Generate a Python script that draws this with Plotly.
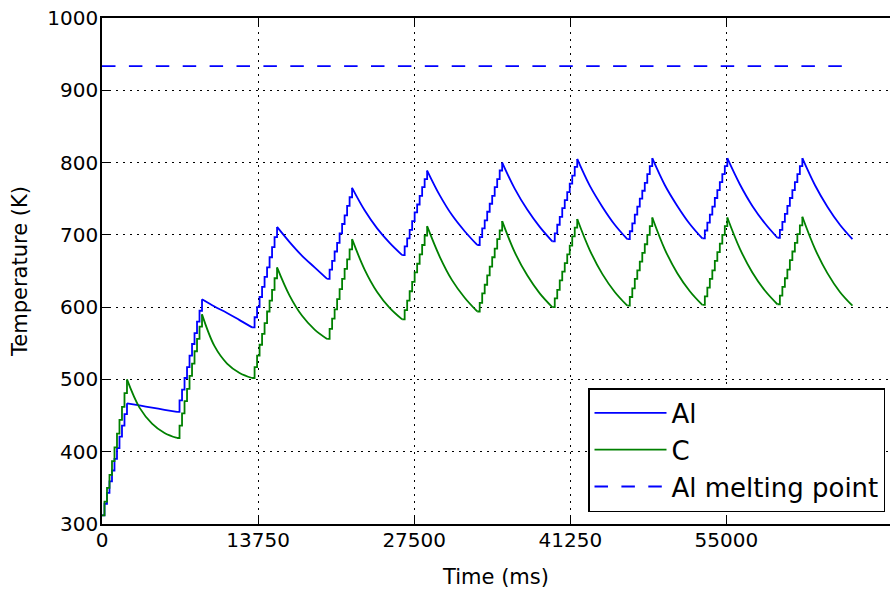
import plotly.graph_objects as go

# ---------------- data ----------------
heat_start_ms = [0, 6610, 13220, 19830, 26440, 33050, 39660, 46270, 52880, 59490]
end_ms = 66100
heat_step_ms = 220          # one heating pulse
cool_fracs = [0, 0.25, 0.5, 0.75, 1.0]   # where the cooling samples were read

al_heat_levels = [
    [312, 328, 343, 359, 374, 390, 405, 421, 436, 452, 467],
    [455, 471, 486, 502, 517, 533, 549, 564, 580, 595, 611],
    [572, 586, 600, 614, 628, 642, 655, 669, 683, 697, 711],
    [639, 652, 664, 677, 689, 702, 715, 727, 740, 752, 765],
    [672, 684, 695, 707, 719, 731, 742, 754, 766, 777, 789],
    [686, 697, 709, 720, 732, 743, 754, 766, 777, 789, 800],
    [691, 702, 714, 725, 737, 748, 759, 771, 782, 794, 805],
    [694, 705, 716, 728, 739, 750, 761, 772, 784, 795, 806],
    [695, 706, 717, 728, 739, 751, 762, 773, 784, 795, 806],
    [696, 707, 718, 729, 740, 751, 762, 773, 784, 795, 806],
]
al_cool = [
    [467, 464, 461, 458, 455],
    [611, 601, 592, 582, 572],
    [711, 690, 671, 655, 639],
    [765, 734, 709, 689, 672],
    [789, 755, 727, 705, 686],
    [800, 764, 735, 711, 691],
    [805, 768, 739, 714, 694],
    [806, 769, 740, 715, 695],
    [806, 770, 740, 716, 696],
    [806, 769, 739, 714, 694],
]
c_heat_levels = [
    [312, 331, 350, 368, 387, 406, 425, 444, 462, 481, 500],
    [419, 436, 453, 470, 487, 505, 522, 539, 556, 573, 590],
    [502, 517, 533, 548, 563, 578, 594, 609, 624, 640, 655],
    [556, 570, 584, 597, 611, 625, 639, 653, 666, 680, 694],
    [583, 596, 609, 622, 635, 648, 660, 673, 686, 699, 712],
    [594, 606, 619, 631, 644, 656, 669, 681, 694, 706, 719],
    [600, 612, 624, 637, 649, 661, 673, 685, 698, 710, 722],
    [602, 614, 626, 639, 651, 663, 675, 687, 700, 712, 724],
    [603, 615, 627, 639, 651, 664, 676, 688, 700, 712, 724],
    [604, 616, 628, 640, 652, 665, 677, 689, 701, 713, 725],
]
c_cool = [
    [500, 461, 439, 426, 419],
    [590, 546, 522, 509, 502],
    [655, 616, 588, 569, 556],
    [694, 652, 621, 599, 583],
    [712, 670, 637, 613, 594],
    [719, 676, 644, 619, 600],
    [722, 679, 646, 621, 602],
    [724, 680, 647, 622, 603],
    [724, 681, 648, 623, 604],
    [725, 681, 647, 621, 602],
]
melt_K = 933.47
x_ticks = [0, 13750, 27500, 41250, 55000]
y_ticks = [300, 400, 500, 600, 700, 800, 900, 1000]

BLUE = "#0000ff"
GREEN = "#008000"
FONT = "DejaVu Sans"


def heating_xy(levels_per_cycle):
    xs, ys = [], []
    for start, levels in zip(heat_start_ms, levels_per_cycle):
        for i, v in enumerate(levels):
            xs.append(start + i * heat_step_ms)
            ys.append(v)
        xs.append(None)
        ys.append(None)
    return xs, ys


def cooling_xy(levels_per_cycle, cool_per_cycle):
    xs, ys = [], []
    ends = heat_start_ms[1:] + [end_ms]
    for start, levels, end, vals in zip(heat_start_ms, levels_per_cycle, ends, cool_per_cycle):
        t_peak = start + (len(levels) - 1) * heat_step_ms
        for f, v in zip(cool_fracs, vals):
            xs.append(t_peak + f * (end - t_peak))
            ys.append(v)
        xs.append(None)
        ys.append(None)
    return xs, ys


fig = go.Figure()
LW = 1.8
for name, color, heat, cool, grp in [
    ("Al", BLUE, al_heat_levels, al_cool, "al"),
    ("C", GREEN, c_heat_levels, c_cool, "c"),
]:
    hx, hy = heating_xy(heat)
    cx, cy = cooling_xy(heat, cool)
    fig.add_trace(go.Scatter(x=hx, y=hy, mode="lines", name=name, legendgroup=grp,
                             line=dict(color=color, width=LW, shape="hv"),
                             connectgaps=False))
    fig.add_trace(go.Scatter(x=cx, y=cy, mode="lines", name=name, legendgroup=grp,
                             showlegend=False,
                             line=dict(color=color, width=LW, shape="spline", smoothing=1),
                             connectgaps=False))

fig.add_trace(go.Scatter(x=[0, end_ms], y=[melt_K, melt_K], mode="lines",
                         name="Al melting point", legendgroup="melt",
                         line=dict(color=BLUE, width=LW, dash="13.5px,13.4px")))

L, R, T, B = 102, 0, 18, 66
W, H = 890, 590
plot_w = W - L - R
plot_h = H - T - B
x_max = plot_w / 156.1 * 13750

axis_common = dict(
    ticks="inside", ticklen=7, tickwidth=1, tickcolor="black",
    showline=True, linecolor="black", linewidth=1.5,
    showgrid=True, gridcolor="black", gridwidth=1, griddash="2px,5px",
    zeroline=False, tickfont=dict(family=FONT, size=20, color="black"),
)

fig.update_layout(
    width=W, height=H,
    margin=dict(l=L, r=R, t=T, b=B),
    paper_bgcolor="white", plot_bgcolor="white",
    font=dict(family=FONT, color="black"),
    showlegend=True,
    xaxis=dict(range=[0, x_max], tickvals=x_ticks, ticktext=[str(v) for v in x_ticks],
               mirror="ticks", ticklabelstandoff=-3,
               title=dict(text="Time (ms)", font=dict(family=FONT, size=21), standoff=19),
               **axis_common),
    yaxis=dict(range=[300, 1000], tickvals=y_ticks, ticktext=[str(v) for v in y_ticks],
               ticklabelstandoff=-2,
               title=dict(text="Temperature (K)", font=dict(family=FONT, size=21), standoff=14),
               **axis_common),
    legend=dict(
        x=(885 - L) / plot_w, xanchor="right",
        y=(H - B - 512) / plot_h, yanchor="bottom",
        bgcolor="white", bordercolor="black", borderwidth=1.5,
        font=dict(family=FONT, size=26, color="black"),
        tracegroupgap=0, itemwidth=72,
    ),
)

fig.write_html("out.html")
